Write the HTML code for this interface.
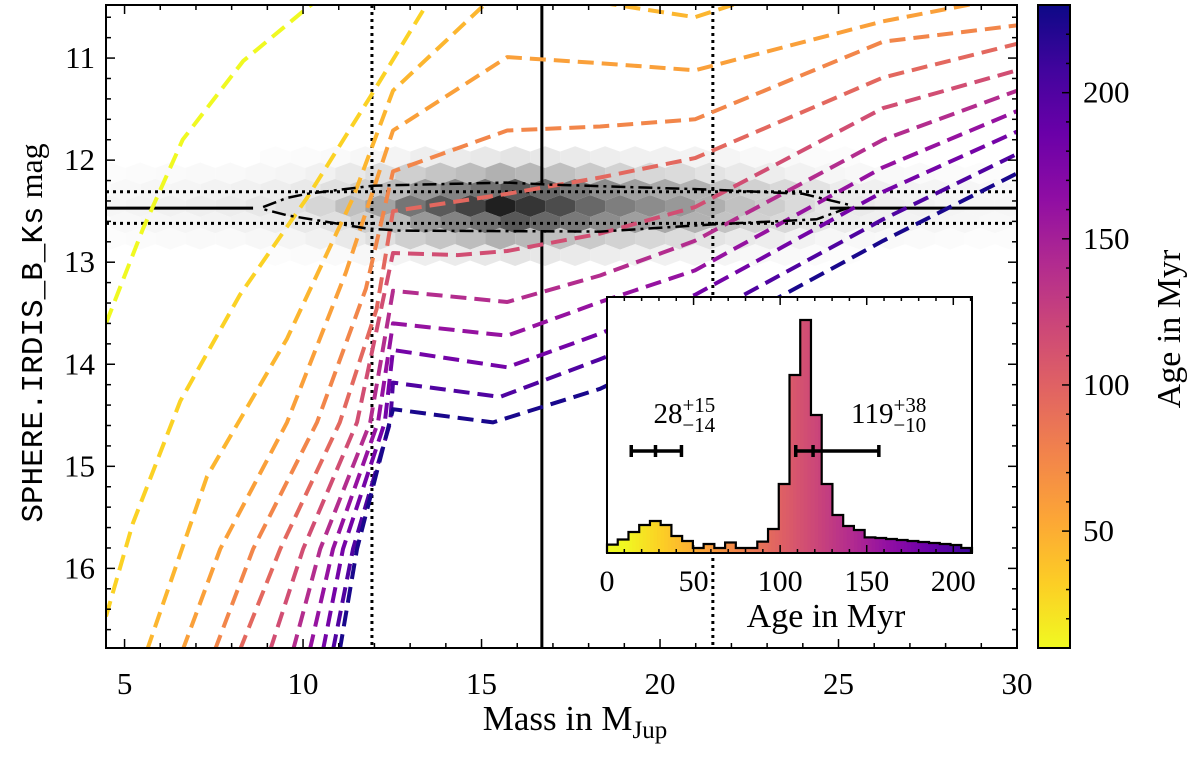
<!DOCTYPE html>
<html><head><meta charset="utf-8"><style>
html,body{margin:0;padding:0;background:#fff;}
svg{display:block;font-family:"Liberation Serif",serif;}
</style></head><body>
<svg id="chart" width="1200" height="757" viewBox="0 0 1200 757" xmlns="http://www.w3.org/2000/svg">
<defs>
<clipPath id="plotclip"><rect x="106" y="5" width="911" height="643"/></clipPath>
<linearGradient id="cbgrad" x1="0" y1="0" x2="0" y2="1">
<stop offset="0" stop-color="#0d0887"/><stop offset="0.1" stop-color="#41049d"/><stop offset="0.2" stop-color="#6a00a8"/><stop offset="0.3" stop-color="#8f0da4"/><stop offset="0.4" stop-color="#b12a90"/><stop offset="0.5" stop-color="#cc4778"/><stop offset="0.6" stop-color="#e16462"/><stop offset="0.7" stop-color="#f2844b"/><stop offset="0.8" stop-color="#fca636"/><stop offset="0.9" stop-color="#fcce25"/><stop offset="1" stop-color="#f0f921"/>
</linearGradient>
</defs>
<g id="hexlayer" clip-path="url(#plotclip)"></g>
<g id="refl" clip-path="url(#plotclip)"></g>
<g id="isolayer" clip-path="url(#plotclip)"></g>
<g id="contour" clip-path="url(#plotclip)"></g>
<rect x="106" y="5" width="911" height="643" fill="none" stroke="#000" stroke-width="2"/>
<g id="axes"></g>
<text x="575" y="730" font-size="35" text-anchor="middle">Mass in M<tspan font-size="25" dy="8">Jup</tspan></text>
<text transform="translate(42,333) rotate(-90)" font-size="31" text-anchor="middle"><tspan font-family="Liberation Mono, monospace">SPHERE.IRDIS_B_Ks</tspan><tspan font-family="Liberation Serif, serif" font-size="32"> mag</tspan></text>
<g id="inset"></g>
<g id="cbar"></g>
</svg>
<script>
// ---------- data ----------
const xDomain=[4.48,30.0];
const yDomain=[10.48,16.78];
const xTicks=[5,10,15,20,25,30];
const yTicks=[11,12,13,14,15,16];
const isoAges=[10,30,45,58,75,95,115,140,160,180,200,225];
const isoMass=[
 [4.48,5.52,6.63,8.32,10.11,10.9],
 [4.48,5.23,6.56,8.23,10.11,11.88,13.44,14.1],
 [5.63,7.31,9.55,11.40,12.52,15.04,16.30,17.28,20.98,22.90],
 [6.63,7.68,9.55,11.2,12.52,15.72,18.32,20.98,26.25,28.61,30.0],
 [7.53,8.60,10.39,11.76,12.52,15.72,18.32,20.98,26.25,30.0],
 [8.23,9.36,11.03,12.06,12.52,15.72,18.32,20.98,26.25,30.0],
 [9.08,10.00,11.51,12.52,14.33,15.72,18.32,20.98,26.25,30.0],
 [9.72,10.48,11.88,12.52,15.72,18.32,20.98,26.25,30.0],
 [10.19,10.84,12.10,12.52,15.72,18.32,20.98,26.25,30.0],
 [10.56,11.12,12.29,12.52,15.72,18.32,20.98,26.25,30.0],
 [10.84,11.40,12.44,12.52,15.52,18.32,20.98,26.25,30.0],
 [11.03,11.51,12.52,15.32,18.32,20.98,26.25,30.0]
];
const isoMag=[
 [13.60,12.67,11.80,11.03,10.51,10.30],
 [16.47,15.56,14.36,13.32,12.37,11.38,10.49,10.20],
 [16.80,15.10,13.75,12.37,11.32,10.49,10.25,10.40,10.60,10.38],
 [16.80,15.81,14.57,13.1,11.71,10.99,11.05,11.12,10.64,10.48,10.38],
 [16.80,15.81,14.57,13.26,12.11,11.71,11.67,11.60,10.84,10.68],
 [16.80,15.81,14.57,13.46,12.50,12.33,12.17,11.98,11.19,10.86],
 [16.80,15.81,14.57,12.91,12.93,12.89,12.72,12.46,11.49,11.12],
 [16.80,15.81,14.57,13.28,13.39,13.13,12.79,11.80,11.32],
 [16.80,15.81,14.57,13.60,13.72,13.39,13.08,12.07,11.52],
 [16.80,15.81,14.57,13.86,14.03,13.70,13.32,12.31,11.72],
 [16.80,15.81,14.57,14.18,14.32,13.95,13.58,12.58,11.94],
 [16.80,15.81,14.44,14.57,14.24,13.79,12.79,12.13]
];
const hexDensity=[0.04,0.05,0.06,0.07,0.08,0.1,0.13,0.18,0.28,0.4,0.6,0.72,0.82,0.97,0.88,0.78,0.66,0.56,0.5,0.45,0.35,0.27,0.22,0.16,0.11,0.09,0.07,0.06,0.05,0.04,0.04];
const hexRowWeights=[0.12,0.35,0.75,1,0.75,0.35,0.12];
const hexMass0=4.6, hexMassStep=0.84, hexMagCenter=12.45, hexMagStep=0.16;
const contourUpperMass=[8.88,9.55,10.11,11.96,15.71,16.92,21.48,24.0,25.32];
const contourUpperMag=[12.46,12.37,12.33,12.25,12.22,12.24,12.29,12.33,12.44];
const contourLowerMass=[8.88,9.55,11.79,12.72,18.32,21.48,24.39,25.32];
const contourLowerMag=[12.48,12.54,12.67,12.69,12.70,12.63,12.58,12.46];
const massBest=16.69, massLo=11.93, massHi=21.48;
const magBest=12.47, magLo=12.31, magHi=12.62;
// inset histogram
const histXDomain=[0,210.8];
const histCounts=[8.4,13.5,21,28,32,28,17,12,5,9,5,10.5,5,5,11.4,24,69,178,233,138,69,38,27,23,15.6,15,14,13,12,11,10,9,8,5];
const histXTicks=[0,50,100,150,200];
const ageMedians=[28,119];
const ageErrLo=[14,10];
const ageErrHi=[15,38];
const cbDomain=[10,230];
const cbTicks=[50,100,150,200];

// ---------- helpers ----------
const NS="http://www.w3.org/2000/svg";
function mk(tag,attrs,parent){const e=document.createElementNS(NS,tag);for(const k in attrs)e.setAttribute(k,attrs[k]);parent.appendChild(e);return e;}
const PX0=106,PX1=1017,PY0=5,PY1=648;
function X(m){return PX0+(m-xDomain[0])/(xDomain[1]-xDomain[0])*(PX1-PX0);}
function Y(v){return PY0+(v-yDomain[0])/(yDomain[1]-yDomain[0])*(PY1-PY0);}
const plasma=["#0d0887","#41049d","#6a00a8","#8f0da4","#b12a90","#cc4778","#e16462","#f2844b","#fca636","#fcce25","#f0f921"];
function hex2rgb(h){return [parseInt(h.substr(1,2),16),parseInt(h.substr(3,2),16),parseInt(h.substr(5,2),16)];}
function plasmaAt(t){t=Math.max(0,Math.min(1,t));const f=t*10,i=Math.min(9,Math.floor(f)),r=f-i;const a=hex2rgb(plasma[i]),b=hex2rgb(plasma[i+1]);return "rgb("+a.map((v,k)=>Math.round(v+(b[k]-v)*r)).join(",")+")";}
function ageColor(a){return plasmaAt(1-(a-cbDomain[0])/(cbDomain[1]-cbDomain[0]));}

// ---------- hexbin ----------
const hexG=document.getElementById("hexlayer");
const hw=X(xDomain[0]+hexMassStep)-X(xDomain[0]);
const hh=(Y(hexMagCenter+hexMagStep)-Y(hexMagCenter))*4/3;
const mid=(hexRowWeights.length-1)/2;
hexRowWeights.forEach((w,r)=>{
  const off=r-mid;const cy=Y(hexMagCenter+off*hexMagStep);
  const shift=(Math.abs(off)%2)*0.5;
  hexDensity.forEach((d,i)=>{
    const dd=Math.min(1,d*w);if(dd<0.012)return;
    const cx=X(hexMass0+(i+shift)*hexMassStep);
    const v=Math.round(255*(1-0.9*dd));
    const pts=[[cx,cy-hh/2],[cx+hw/2,cy-hh/4],[cx+hw/2,cy+hh/4],[cx,cy+hh/2],[cx-hw/2,cy+hh/4],[cx-hw/2,cy-hh/4]];
    const p=mk("polygon",{points:pts.map(q=>q.join(",")).join(" "),fill:"rgb("+v+","+v+","+v+")"},hexG);
    
    
  });
});

// ---------- reference lines ----------
const refG=document.getElementById("refl");
let l;
l=mk("line",{x1:X(massLo),x2:X(massLo),y1:PY0,y2:PY1,stroke:"#000","stroke-width":3,"stroke-dasharray":"3,4"},refG);

l=mk("line",{x1:X(massHi),x2:X(massHi),y1:PY0,y2:PY1,stroke:"#000","stroke-width":3,"stroke-dasharray":"3,4"},refG);

l=mk("line",{x1:PX0,x2:PX1,y1:Y(magLo),y2:Y(magLo),stroke:"#000","stroke-width":3,"stroke-dasharray":"3,4"},refG);

l=mk("line",{x1:PX0,x2:PX1,y1:Y(magHi),y2:Y(magHi),stroke:"#000","stroke-width":3,"stroke-dasharray":"3,4"},refG);

l=mk("line",{x1:X(massBest),x2:X(massBest),y1:PY0,y2:Y(contourUpperMag[5]),stroke:"#000","stroke-width":3},refG);

l=mk("line",{x1:X(massBest),x2:X(massBest),y1:Y(contourLowerMag[4]),y2:PY1,stroke:"#000","stroke-width":3},refG);

l=mk("line",{x1:PX0,x2:X(8.6),y1:Y(magBest),y2:Y(magBest),stroke:"#000","stroke-width":3},refG);

l=mk("line",{x1:X(24.76),x2:PX1,y1:Y(magBest),y2:Y(magBest),stroke:"#000","stroke-width":3},refG);


// ---------- isochrones ----------
const isoG=document.getElementById("isolayer");
isoAges.forEach((a,k)=>{
  const d=isoMass[k].map((m,i)=>(i?"L":"M")+X(m).toFixed(1)+","+Y(isoMag[k][i]).toFixed(1)).join(" ");
  const p=mk("path",{d:d,fill:"none",stroke:ageColor(a),"stroke-width":4,"stroke-dasharray":"16,8","stroke-linejoin":"round"},isoG);
  
  
});

// ---------- contour ----------
const cG=document.getElementById("contour");
let cd=contourUpperMass.map((m,i)=>(i?"L":"M")+X(m).toFixed(1)+","+Y(contourUpperMag[i]).toFixed(1)).join(" ");
for(let i=contourLowerMass.length-1;i>=0;i--)cd+=" L"+X(contourLowerMass[i]).toFixed(1)+","+Y(contourLowerMag[i]).toFixed(1);
const cp=mk("path",{d:cd+" Z",fill:"none",stroke:"#000","stroke-width":2.5,"stroke-dasharray":"14,5,3,5"},cG);



// ---------- axes ----------
const ax=document.getElementById("axes");
for(let m=5;m<=30;m++){
  const x=X(m),maj=(m%5===0),L=maj?9:5;
  mk("line",{x1:x,x2:x,y1:PY1,y2:PY1-L,stroke:"#000","stroke-width":1.5},ax);
  mk("line",{x1:x,x2:x,y1:PY0,y2:PY0+L,stroke:"#000","stroke-width":1.5},ax);
}
xTicks.forEach(v=>{const t=mk("text",{x:X(v),y:694,"font-size":31,"text-anchor":"middle"},ax);t.textContent=v;
  });
for(let i=53;i<=167;i++){
  const v=i/10;if(i%2)continue;if(v<yDomain[0]||v>yDomain[1])continue;
  const y=Y(v),maj=(i%10===0),L=maj?9:5;
  mk("line",{x1:PX0,x2:PX0+L,y1:y,y2:y,stroke:"#000","stroke-width":1.5},ax);
  mk("line",{x1:PX1,x2:PX1-L,y1:y,y2:y,stroke:"#000","stroke-width":1.5},ax);
}
yTicks.forEach(v=>{const t=mk("text",{x:95,y:Y(v)+10,"font-size":31,"text-anchor":"end"},ax);t.textContent=v;
  });

// ---------- inset ----------
const ins=document.getElementById("inset");
const IX0=607,IX1=972,IY0=297,IY1=553;
function HX(a){return IX0+(a-histXDomain[0])/(histXDomain[1]-histXDomain[0])*(IX1-IX0);}
function HY(c){return IY1-c;}
let r=mk("rect",{x:IX0,y:IY0,width:IX1-IX0,height:IY1-IY0,fill:"#fff"},ins);

const bw=(histXDomain[1]-histXDomain[0])/histCounts.length;
let outline="M"+HX(0)+","+HY(0);
histCounts.forEach((c,i)=>{
  const a0=i*bw,a1=(i+1)*bw;
  for(let s=0;s<3;s++){
    const sa=a0+s*bw/3,sb=a0+(s+1)*bw/3;
    const b=mk("rect",{x:HX(sa),y:HY(c),width:HX(sb)-HX(sa)+0.6,height:c,fill:ageColor(Math.max(cbDomain[0],(sa+sb)/2))},ins);
    
    
  }
  outline+=" L"+HX(a0)+","+HY(c)+" L"+HX(a1)+","+HY(c);
});
outline+=" L"+HX(histCounts.length*bw)+","+HY(0);
let o=mk("path",{d:outline,fill:"none",stroke:"#000","stroke-width":2.2},ins);

for(let a=0;a<=210;a+=10){
  const x=HX(a),L=(a%50===0)?8:4;
  mk("line",{x1:x,x2:x,y1:IY1,y2:IY1-L,stroke:"#000","stroke-width":1.5},ins);
  mk("line",{x1:x,x2:x,y1:IY0,y2:IY0+L,stroke:"#000","stroke-width":1.5},ins);
}
histXTicks.forEach(v=>{const t=mk("text",{x:HX(v),y:591,"font-size":30,"text-anchor":"middle"},ins);t.textContent=v;
  });
r=mk("rect",{x:IX0,y:IY0,width:IX1-IX0,height:IY1-IY0,fill:"none",stroke:"#000","stroke-width":2},ins);

let t=mk("text",{x:826,y:627,"font-size":34,"text-anchor":"middle"},ins);t.textContent="Age in Myr";

const ebY=451;
const labelDx=[-2,38];
ageMedians.forEach((m,i)=>{
  const x0=HX(m-ageErrLo[i]),x1=HX(m+ageErrHi[i]),xc=HX(m);
  const g=mk("g",{},ins);
  
  
  mk("line",{x1:x0,x2:x1,y1:ebY,y2:ebY,stroke:"#000","stroke-width":3.5},g);
  [x0,xc,x1].forEach(x=>mk("line",{x1:x,x2:x,y1:ebY-6,y2:ebY+6,stroke:"#000","stroke-width":3.5},g));
  const lab=mk("text",{x:xc+labelDx[i],y:423,"font-size":29},ins);
  
  
  const t1=document.createElementNS(NS,"tspan");t1.textContent=m;lab.appendChild(t1);
  const t2=document.createElementNS(NS,"tspan");t2.setAttribute("font-size","21");t2.setAttribute("dy","-11");t2.textContent="+"+ageErrHi[i];lab.appendChild(t2);
  const t3=document.createElementNS(NS,"tspan");t3.setAttribute("font-size","21");t3.setAttribute("dy","20");t3.setAttribute("dx","-"+(String(ageErrHi[i]).length*10.5+12));t3.textContent="\u2212"+ageErrLo[i];lab.appendChild(t3);
});

// ---------- colorbar ----------
const cb=document.getElementById("cbar");
const CX0=1038,CX1=1070;
function CY(a){return PY0+(cbDomain[1]-a)/(cbDomain[1]-cbDomain[0])*(PY1-PY0);}
r=mk("rect",{x:CX0,y:PY0,width:CX1-CX0,height:PY1-PY0,fill:"url(#cbgrad)",stroke:"#000","stroke-width":2},cb);

for(let a=20;a<=230;a+=10){const y=CY(a),L=(a%50===0)?8:4;
  mk("line",{x1:CX1,x2:CX1-L,y1:y,y2:y,stroke:"#000","stroke-width":1.5},cb);}
cbTicks.forEach(v=>{const tt=mk("text",{x:1083,y:CY(v)+10,"font-size":31},cb);tt.textContent=v;
  });
t=mk("text",{transform:"translate(1180,329) rotate(-90)","font-size":34,"text-anchor":"middle"},cb);t.textContent="Age in Myr";

</script>
</body></html>
